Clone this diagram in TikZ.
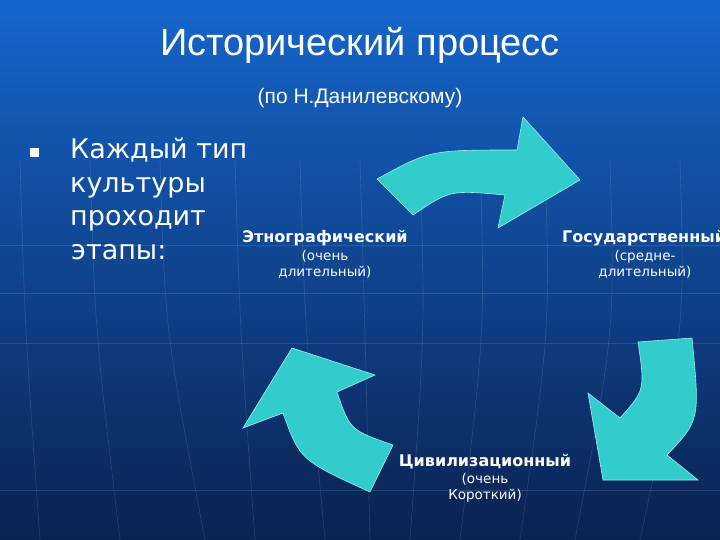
\documentclass[tikz,border=0pt]{standalone}
\usepackage{fontspec}
\setmainfont{Liberation Sans}
\newfontfamily\dv{DejaVu Sans}
\begin{document}
\begin{tikzpicture}[x=1pt,y=-1pt,
  arr/.style={fill=arrcol,draw=arredge,line width=0.6pt},
  lab/.style={text=white,font=\dv\bfseries\fontsize{16}{18}\selectfont,inner sep=0},
  sub/.style={text=white,font=\dv\fontsize{13.5}{16}\selectfont,inner sep=0,align=center},
  streak/.style={draw=white,opacity=0.12,line width=0.6pt}]
\definecolor{arrcol}{HTML}{33CCCC}
\definecolor{arredge}{HTML}{9FEFEF}
\definecolor{topc}{HTML}{1566CC}
\definecolor{botc}{HTML}{0A2250}
\useasboundingbox (0,0) rectangle (720,540);
\shade[top color=topc,bottom color=botc] (0,0) rectangle (720,540);
\begin{scope}
\clip (0,0) rectangle (720,540);
\foreach \yy in {245,293,343,490} \draw[streak] (0,\yy) -- (720,\yy);
\foreach \xx/\bb in {20/40,90/120,160/205,235/255,300/325,360/370,420/410,480/460,545/520,610/575,680/640}
  \draw[streak] (\xx,160) .. controls (\xx+5,330) .. (\bb,540);
\end{scope}
% title
\node[text=white,font=\fontsize{38}{42}\selectfont] (title) at (360,45) {Исторический процесс};
\node[text=white,font=\fontsize{21}{24}\selectfont] (subt) at (360,98) {(по Н.Данилевскому)};
% bullet
\fill[white] (30,148) rectangle (39,157);
\node[anchor=north west,text=white,font=\dv\fontsize{27}{33.5}\selectfont,align=left,inner sep=0] (bul) at (70,138) {Каждый тип\\культуры\\проходит\\\hspace*{1pt}этапы:};
% arrows
\path[arr] (377,179) .. controls (430,150) .. (517,150) -- (523,117) -- (580,180) -- (498,228) -- (505,195)
  .. controls (450,190) .. (413,215) -- cycle;
\path[arr] (638,342) -- (692,338) .. controls (700,420) .. (667,455) -- (698,480) -- (603,480) -- (588,393) -- (620,418)
  .. controls (645,390) .. cycle;
\path[arr] (393,445) -- (370,492) .. controls (300,460) .. (283,413) -- (243,428) -- (292,348) -- (375,375) -- (337,392)
  .. controls (350,430) .. cycle;
% labels
\node[lab] (eth) at (325,238) {Этнографический};
\node[sub] (eths) at (325,264) {(очень\\длительный)};
\begin{scope}
\clip (0,0) rectangle (720,540);
\node[lab,anchor=west] (gos) at (562,238) {Государственный};
\end{scope}
\node[sub] (goss) at (645,264) {(средне-\\длительный)};
\node[lab] (civ) at (485,462) {Цивилизационный};
\node[sub] (civs) at (485,488) {(очень\\Короткий)};
\end{tikzpicture}
\end{document}
